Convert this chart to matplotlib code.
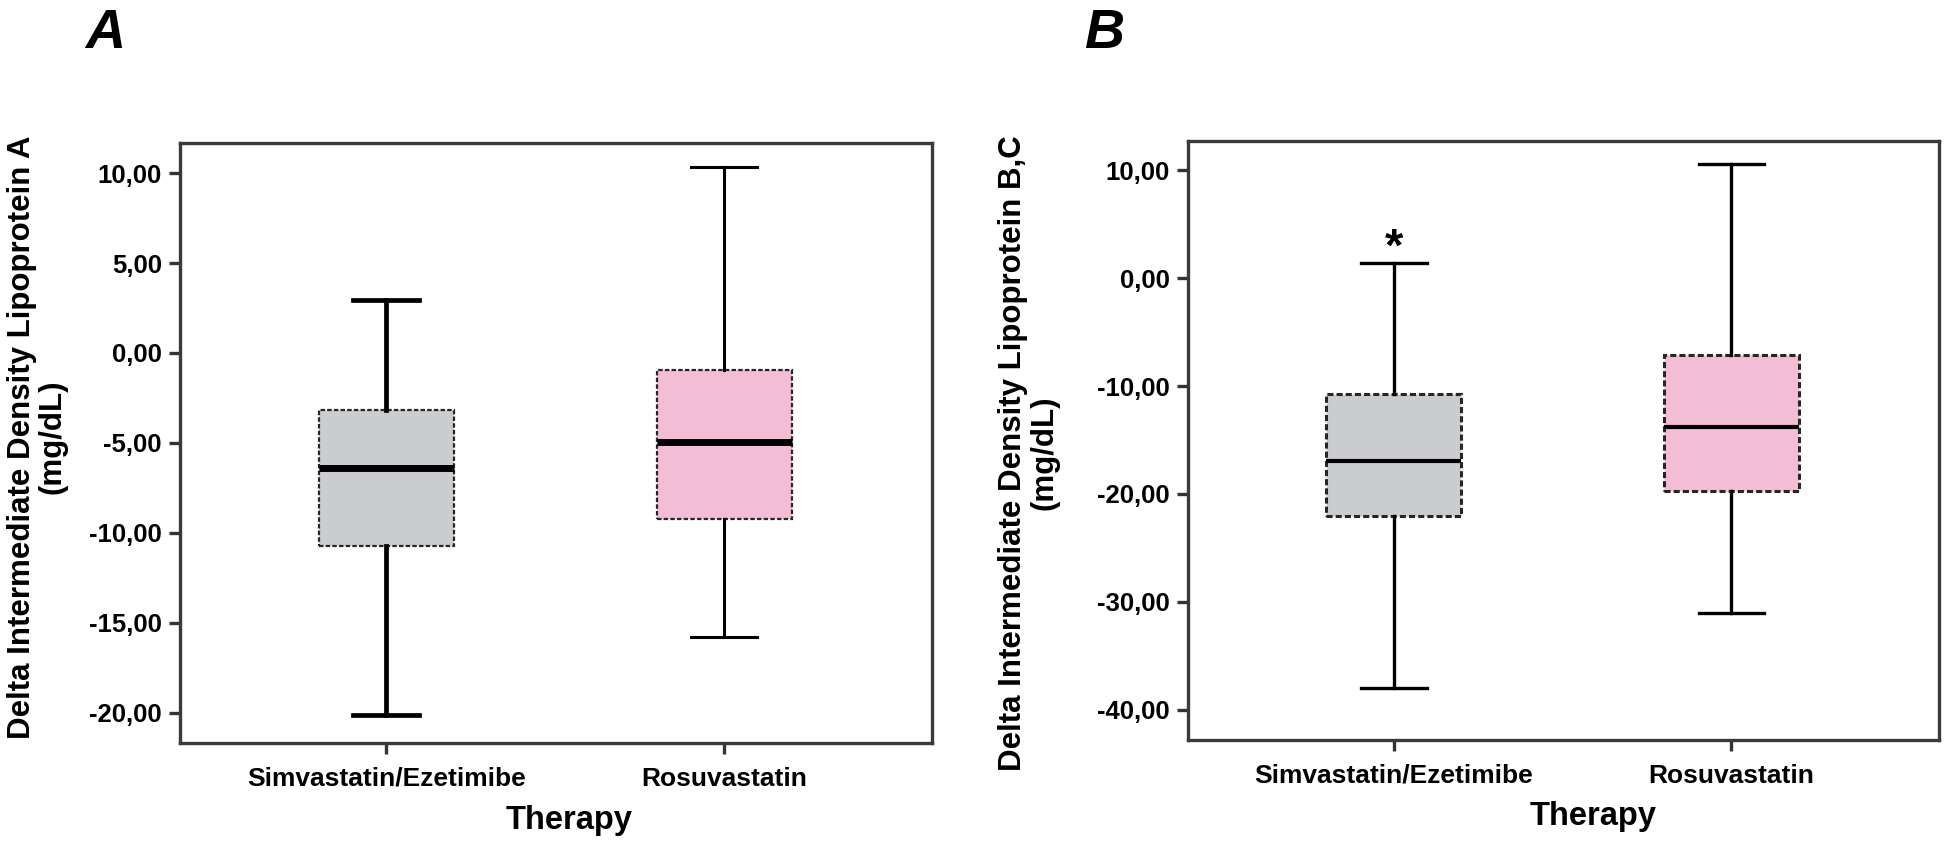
import matplotlib
matplotlib.use("Agg")
import matplotlib.pyplot as plt
from matplotlib.ticker import FuncFormatter

plt.rcParams["font.family"] = ["Liberation Sans", "DejaVu Sans"]
plt.rcParams["font.weight"] = "bold"

CATEGORIES = ["Simvastatin/Ezetimibe", "Rosuvastatin"]
BOX_COLORS = ["#cbccd0", "#f3bed5"]

# panel A: IDL-A change (mg/dL)
A_LOW = [-20.1, -15.8]
A_Q1 = [-10.7, -9.25]
A_MED = [-6.4, -4.93]
A_Q3 = [-3.16, -0.96]
A_HIGH = [2.96, 10.36]
A_TICKS = [10, 5, 0, -5, -10, -15, -20]

# panel B: IDL-B,C change (mg/dL)
B_LOW = [-38.0, -31.0]
B_Q1 = [-22.0, -19.75]
B_MED = [-16.97, -13.83]
B_Q3 = [-10.7, -7.1]
B_HIGH = [1.44, 10.6]
B_TICKS = [10, 0, -10, -20, -30, -40]
B_STAR_Y = 3.9

comma = FuncFormatter(lambda v, _: f"{v:.2f}".replace(".", ","))


def stats(low, q1, med, q3, high):
    return [dict(whislo=low[i], q1=q1[i], med=med[i], q3=q3[i], whishi=high[i],
                 label=CATEGORIES[i]) for i in range(len(CATEGORIES))]


def draw_panel(ax, st, ticks, ylim, ylabel, med_lw, whisk_lw, edge_lw):
    art = ax.bxp(st, positions=[1, 2], widths=0.40, capwidths=0.195,
                 showfliers=False, patch_artist=True,
                 boxprops=dict(edgecolor="#262626", linewidth=edge_lw, linestyle=(0, (2, 1))),
                 medianprops=dict(color="black", linewidth=med_lw, solid_capstyle="butt"),
                 whiskerprops=dict(color="black", linewidth=2.2),
                 capprops=dict(color="black", linewidth=2.2))
    for patch, c in zip(art["boxes"], BOX_COLORS):
        patch.set_facecolor(c)
    # whisker weight differs per box in the original
    for i, w in enumerate(whisk_lw):
        for ln in art["whiskers"][2 * i:2 * i + 2] + art["caps"][2 * i:2 * i + 2]:
            ln.set_linewidth(w)
    ax.set_xlim(0.39, 2.615)
    ax.set_ylim(*ylim)
    ax.set_yticks(ticks)
    ax.yaxis.set_major_formatter(comma)
    ax.tick_params(axis="both", direction="out", length=8, width=2.4,
                   color="#333333", labelsize=18.5, pad=5)
    ax.tick_params(axis="x", labelsize=19, pad=9)
    for s in ax.spines.values():
        s.set_color("#3a3a3a")
        s.set_linewidth(2.4)
    ax.set_ylabel(ylabel, fontsize=22.5, fontweight="bold", va="center",
                  multialignment="center", linespacing=1.05)
    ax.set_xlabel("Therapy", fontsize=23.5, fontweight="bold", va="center")


fig = plt.figure(figsize=(19.46, 8.42), dpi=100)
axA = fig.add_axes([0.0925, 0.1176, 0.3864, 0.7126])
axB = fig.add_axes([0.6105, 0.1211, 0.3859, 0.7114])

draw_panel(axA, stats(A_LOW, A_Q1, A_MED, A_Q3, A_HIGH), A_TICKS, (-21.67, 11.67),
           "Delta Intermediate Density Lipoprotein A\n(mg/dL)", 5.0, [3.4, 2.2], 1.6)
axA.yaxis.set_label_coords(-0.19, 0.51)
axA.xaxis.set_label_coords(0.517, -0.13)

draw_panel(axB, stats(B_LOW, B_Q1, B_MED, B_Q3, B_HIGH), B_TICKS, (-42.8, 12.7),
           "Delta Intermediate Density Lipoprotein B,C\n(mg/dL)", 3.0, [2.4, 2.4], 2.2)
axB.yaxis.set_label_coords(-0.212, 0.479)
axB.xaxis.set_label_coords(0.54, -0.128)
axB.annotate("*", xy=(1, B_STAR_Y), xytext=(0, -9), textcoords="offset points",
             ha="center", va="center", fontsize=34, fontweight="bold")

fig.text(0.044, 0.943, "A", fontsize=40, fontweight="bold", style="italic")
fig.text(0.557, 0.943, "B", fontsize=40, fontweight="bold", style="italic")

fig.savefig("out.png", dpi=100)
